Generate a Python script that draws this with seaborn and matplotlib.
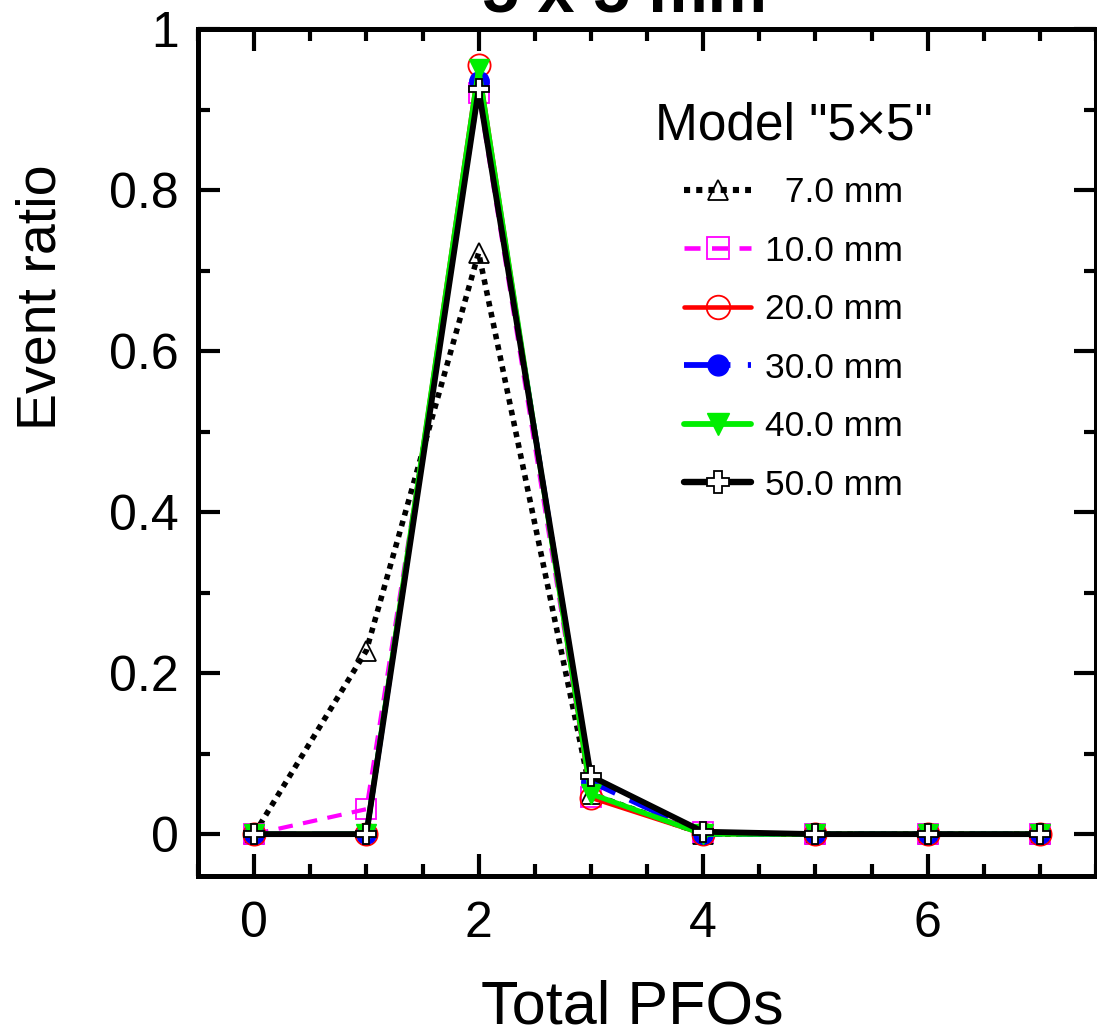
import matplotlib
matplotlib.use("Agg")
import matplotlib.pyplot as plt
import seaborn as sns
import numpy as np
from matplotlib.ticker import MultipleLocator
from matplotlib.lines import Line2D

sns.set_style("ticks")
plt.rcParams['font.family'] = ['Liberation Sans', 'DejaVu Sans']
plt.rcParams['text.color'] = 'black'
plt.rcParams['axes.labelcolor'] = 'black'
plt.rcParams['xtick.color'] = 'black'
plt.rcParams['ytick.color'] = 'black'

# ---- data ----
total_pfos = [0, 1, 2, 3, 4, 5, 6, 7]
ratio_7mm  = [0.0, 0.228, 0.722, 0.050, 0.000, 0.0, 0.0, 0.0]
ratio_10mm = [0.0, 0.031, 0.920, 0.046, 0.003, 0.0, 0.0, 0.0]
ratio_20mm = [0.0, 0.0,   0.955, 0.045, 0.000, 0.0, 0.0, 0.0]
ratio_30mm = [0.0, 0.0,   0.935, 0.065, 0.000, 0.0, 0.0, 0.0]
ratio_40mm = [0.0, 0.0,   0.950, 0.050, 0.000, 0.0, 0.0, 0.0]
ratio_50mm = [0.0, 0.0,   0.925, 0.072, 0.003, 0.0, 0.0, 0.0]
labels = ["  7.0 mm", "10.0 mm", "20.0 mm", "30.0 mm", "40.0 mm", "50.0 mm"]
legend_title = 'Model "5\u00d75"'
title_text = "5 x 5 mm"
x_label = "Total PFOs"
y_label = "Event ratio"

series = [ratio_7mm, ratio_10mm, ratio_20mm, ratio_30mm, ratio_40mm, ratio_50mm]
styles = [
    dict(color="black", lw=4.0, ls=(0, (1, 1)), marker="^", ms=14, mfc="none", mec="black", mew=1.3),
    dict(color="#ff00ff", lw=3.0, ls=(0, (3.5, 2.5)), marker="s", ms=15, mfc="none", mec="#ff00ff", mew=1.3),
    dict(color="#ff0000", lw=3.0, ls="-", marker="o", ms=16, mfc="none", mec="#ff0000", mew=1.3),
    dict(color="#0000ff", lw=3.8, ls=(0, (8, 3)), marker="o", ms=14, mfc="#0000ff", mec="#0000ff", mew=1.0),
    dict(color="#00ee00", lw=3.8, ls="-", marker="v", ms=15, mfc="#00ee00", mec="#00ee00", mew=1.0),
    dict(color="black", lw=4.2, ls="-", marker="P", ms=15, mfc="white", mec="black", mew=1.3),
]

fig = plt.figure(figsize=(10.97, 10.35), dpi=100)
ax = fig.add_axes([198/1097, 1-876/1035, 898/1097, 847/1035])

handles = []
for ys, st, lab in zip(series, styles, labels):
    sns.lineplot(x=total_pfos, y=ys, ax=ax, color=st["color"], linewidth=st["lw"],
                 linestyle=st["ls"], marker=st["marker"], markersize=st["ms"],
                 markerfacecolor=st["mfc"], markeredgecolor=st["mec"], markeredgewidth=st["mew"],
                 dash_capstyle="butt", legend=False)
    handles.append(Line2D([], [], color=st["color"], linewidth=st["lw"] * 1.1, linestyle=st["ls"],
                          marker=st["marker"], markersize=st["ms"] + 1, markerfacecolor=st["mfc"],
                          markeredgecolor=st["mec"], markeredgewidth=st["mew"], dash_capstyle="butt"))

ax.set_xlim(-0.5, 7.5)
ax.set_ylim(-0.052, 1.0)
ax.xaxis.set_minor_locator(MultipleLocator(0.5))
ax.yaxis.set_minor_locator(MultipleLocator(0.1))
ax.set_yticks([0, 0.2, 0.4, 0.6, 0.8, 1.0])
ax.set_yticklabels(["0", "0.2", "0.4", "0.6", "0.8", "1"])
ax.set_xticks([0, 2, 4, 6])
ax.set_xticklabels(["0", "2", "4", "6"])

ax.tick_params(which="both", direction="in", top=True, right=True, width=3, color="black",
               labelcolor="black")
ax.tick_params(which="major", length=16, labelsize=36)
ax.tick_params(which="minor", length=8.5)
ax.tick_params(axis="y", which="major", pad=14)
ax.tick_params(axis="x", which="major", pad=18)
for sp in ax.spines.values():
    sp.set_linewidth(3.6)
    sp.set_color("black")

ax.set_xlabel(x_label, fontsize=44, color="black")
ax.set_ylabel(y_label, fontsize=40, color="black")
ax.xaxis.set_label_coords((632-198)/898, -0.122)
ax.yaxis.set_label_coords((68-198)/898, (876-297)/847)

leg = ax.legend(handles, labels, title=legend_title, loc="upper left",
                bbox_to_anchor=((630-198)/898, (876-77)/847), frameon=False,
                fontsize=25.5, title_fontsize=37, handlelength=1.9, handletextpad=0.4,
                labelspacing=0.72, borderpad=0.2)
leg.get_title().set_color("black")
for t in leg.get_texts():
    t.set_color("black")

fig.text(625/1097, 1-12/1035, title_text, fontsize=48, fontweight="bold",
         ha="center", va="baseline", color="black")

fig.savefig("out.png", dpi=100)
